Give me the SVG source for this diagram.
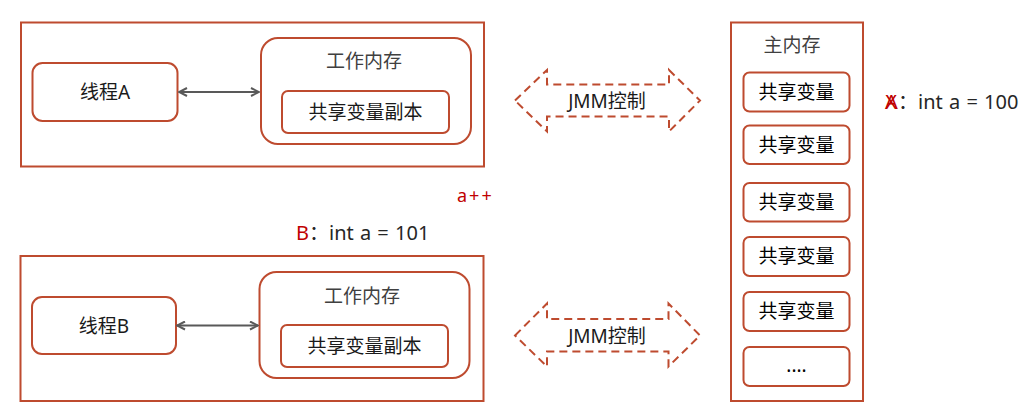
<svg xmlns="http://www.w3.org/2000/svg" width="1026" height="406" viewBox="0 0 1026 406">
<style>
text{font-family:"Noto Sans","Noto Sans CJK SC",sans-serif;dominant-baseline:central;text-anchor:middle}
.box{fill:#fff;stroke:#BE4B2F;stroke-width:2}
.lbl{font-size:19px;fill:#1a1a1a}
.grey{font-size:19px;fill:#404040}
.sv{font-size:19px;fill:#000}
.jmm{fill:#fff;stroke:#BE4B2F;stroke-width:2;stroke-dasharray:8 5}
.conn{stroke:#595959;stroke-width:2;fill:none;marker-start:url(#ah);marker-end:url(#ah)}
.note{font-size:20px;fill:#262626;text-anchor:start;word-spacing:1px}
.red{fill:#C00000}
</style>
<defs>
<marker id="ah" viewBox="0 0 10 10" refX="9" refY="5" markerWidth="10" markerHeight="10" markerUnits="userSpaceOnUse" orient="auto-start-reverse">
<path d="M1,1 L9,5 L1,9" fill="none" stroke="#595959" stroke-width="2"/>
</marker>
</defs>
<rect width="1026" height="406" fill="#fff"/>

<g id="threadA-container">
<rect class="box" x="21" y="22.5" width="463" height="144"/>
</g>
<g id="threadA">
<rect class="box" x="32.5" y="63" width="145" height="58" rx="10"/>
<text class="lbl" x="105" y="92">线程A</text>
</g>
<g id="workmemA">
<rect class="box" x="261" y="38" width="210" height="106" rx="17"/>
<text class="grey" x="364" y="61">工作内存</text>
</g>
<g id="copyA">
<rect class="box" x="282" y="91" width="167" height="42" rx="6"/>
<text class="lbl" x="365.5" y="112">共享变量副本</text>
</g>

<g id="threadB-container">
<rect class="box" x="20.5" y="256" width="463" height="145"/>
</g>
<g id="threadB">
<rect class="box" x="32" y="297" width="144" height="57" rx="10"/>
<text class="lbl" x="104" y="326">线程B</text>
</g>
<g id="workmemB">
<rect class="box" x="259.5" y="272" width="210" height="106" rx="17"/>
<text class="grey" x="362" y="296">工作内存</text>
</g>
<g id="copyB">
<rect class="box" x="281" y="325" width="167" height="42" rx="6"/>
<text class="lbl" x="364.5" y="346">共享变量副本</text>
</g>

<g id="mainmem">
<rect class="box" x="731" y="22.5" width="132" height="378.5"/>
<text class="grey" x="792" y="45">主内存</text>
</g>
<g id="var1"><rect class="box" x="743.5" y="72.5" width="106" height="39" rx="6"/><text class="sv" x="796.5" y="92">共享变量</text></g>
<g id="var2"><rect class="box" x="743.5" y="125.5" width="106" height="38.5" rx="6"/><text class="sv" x="796.5" y="145">共享变量</text></g>
<g id="var3"><rect class="box" x="743.5" y="183" width="106" height="38.5" rx="6"/><text class="sv" x="796.5" y="202">共享变量</text></g>
<g id="var4"><rect class="box" x="743.5" y="237" width="106" height="39" rx="6"/><text class="sv" x="796.5" y="256">共享变量</text></g>
<g id="var5"><rect class="box" x="743.5" y="292" width="106" height="39" rx="6"/><text class="sv" x="796.5" y="311">共享变量</text></g>
<g id="var6"><rect class="box" x="743.5" y="347" width="106" height="39" rx="6"/><text class="sv" x="796.5" y="365">....</text></g>

<g id="jmmA">
<polygon class="jmm" points="515,100.5 547,70 547,84.5 669,84.5 669,70 700,100.5 669,131.5 669,116.5 547,116.5 547,131.5"/>
<text class="lbl" x="607" y="101">JMM控制</text>
</g>
<g id="jmmB">
<polygon class="jmm" points="515,335.5 547,303.5 547,319 668.5,319 668.5,303.5 700,335.5 668.5,366.5 668.5,351.5 547,351.5 547,366.5"/>
<text class="lbl" x="607" y="336">JMM控制</text>
</g>

<g id="connectors">
<line class="conn" x1="179" y1="92" x2="259" y2="92"/>
<line class="conn" x1="177" y1="325.5" x2="258" y2="325.5"/>
</g>

<g id="notes">
<text class="note" x="885" y="101"><tspan class="red">A</tspan><tspan class="red" dx="-12.5">X</tspan><tspan dx="1">：int a = 100</tspan></text>
<text class="note" x="296" y="232"><tspan class="red">B</tspan><tspan>：int a = 101</tspan></text>
<text style="font-size:18px;fill:#C00000;text-anchor:start;letter-spacing:2px" x="457" y="195">a++</text>
</g>
</svg>
